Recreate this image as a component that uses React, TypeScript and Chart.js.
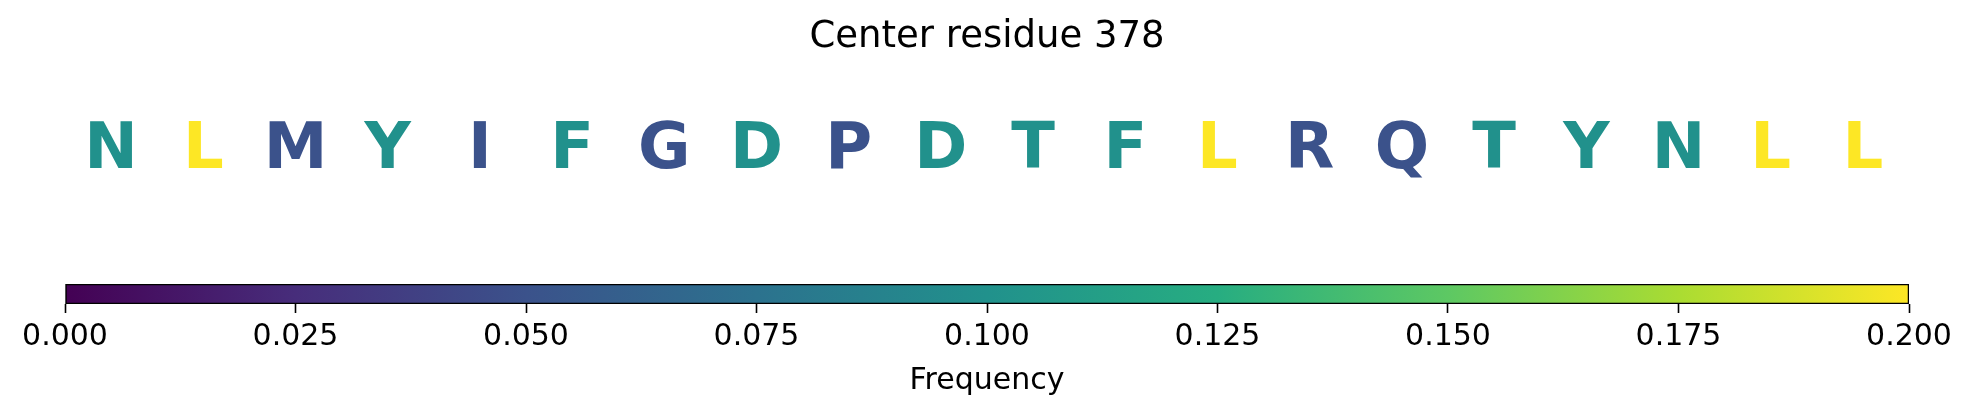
import React, { useEffect, useRef } from "react";
import { Chart, registerables } from "chart.js";

Chart.register(...registerables);

const TITLE = "Center residue 378";
const LETTERS = ["N", "L", "M", "Y", "I", "F", "G", "D", "P", "D", "T", "F", "L", "R", "Q", "T", "Y", "N", "L", "L"];
const FREQUENCIES = [0.1, 0.2, 0.05, 0.1, 0.05, 0.1, 0.05, 0.1, 0.05, 0.1, 0.1, 0.1, 0.2, 0.05, 0.05, 0.1, 0.1, 0.1, 0.2, 0.2];
const POSITIONS = [0, 1, 2, 3, 4, 5, 6, 7, 8, 9, 10, 11, 12, 13, 14, 15, 16, 17, 18, 19];
const ROW_VALUE = 0.5;
const COLOR_MIN = 0;
const COLOR_MAX = 0.2;
const TICK_VALUES = [0, 0.025, 0.05, 0.075, 0.1, 0.125, 0.15, 0.175, 0.2];
const COLORBAR_LABEL = "Frequency";
const VIRIDIS = ["#440154", "#472d7b", "#3b528b", "#2c728e", "#21918c", "#27ad81", "#5dc863", "#aadc32", "#fde725"];

const FONT = "'DejaVu Sans', 'Noto Sans', sans-serif";
const LETTER_SIZE = 64;

function hexToRgb(h: string) {
  const n = parseInt(h.slice(1), 16);
  return [(n >> 16) & 255, (n >> 8) & 255, n & 255];
}

function viridis(t: number) {
  const c = Math.max(0, Math.min(1, t)) * (VIRIDIS.length - 1);
  const lo = Math.floor(c);
  const hi = Math.min(VIRIDIS.length - 1, lo + 1);
  const f = c - lo;
  const a = hexToRgb(VIRIDIS[lo]);
  const b = hexToRgb(VIRIDIS[hi]);
  const r = a.map((v, i) => Math.round(v + (b[i] - v) * f));
  return `rgb(${r[0]},${r[1]},${r[2]})`;
}

const letterPlugin = {
  id: "letterPlugin",
  afterDatasetsDraw(chart: any) {
    const meta = chart.getDatasetMeta(0);
    const ctx = chart.ctx;
    ctx.save();
    ctx.font = `bold ${LETTER_SIZE}px ${FONT}`;
    ctx.textAlign = "center";
    ctx.textBaseline = "alphabetic";
    meta.data.forEach((el: any, i: number) => {
      ctx.fillStyle = viridis((FREQUENCIES[i] - COLOR_MIN) / (COLOR_MAX - COLOR_MIN));
      // vertically centre the capital letters on the point
      ctx.fillText(LETTERS[i], el.x, el.y + 0.3645 * LETTER_SIZE);
    });
    ctx.restore();
  },
};

export default function App() {
  const topRef = useRef<HTMLCanvasElement>(null);
  const barRef = useRef<HTMLCanvasElement>(null);

  useEffect(() => {
    const top = new Chart(topRef.current!, {
      type: "scatter",
      data: {
        datasets: [
          {
            data: POSITIONS.map((p) => ({ x: p, y: ROW_VALUE })),
            pointRadius: 0,
            pointHoverRadius: 0,
          },
        ],
      },
      options: {
        animation: false,
        responsive: false,
        devicePixelRatio: 1,
        layout: { padding: { left: 65, right: 64, top: 0, bottom: 41 } },
        plugins: {
          legend: { display: false },
          tooltip: { enabled: false },
          title: {
            display: true,
            text: TITLE,
            color: "#000",
            font: { family: FONT, size: 37, weight: "normal" },
            padding: { top: 15, bottom: 0 },
          },
        },
        scales: {
          x: { type: "linear", min: -0.5, max: 19.5, display: false },
          y: { type: "linear", min: 0, max: 1, display: false },
        },
      },
      plugins: [letterPlugin],
    } as any);

    const bar = new Chart(barRef.current!, {
      type: "bar",
      data: {
        labels: [""],
        datasets: [
          {
            data: [[COLOR_MIN, COLOR_MAX]],
            backgroundColor: (c: any) => {
              const area = c.chart.chartArea;
              if (!area) return VIRIDIS[0];
              const g = c.chart.ctx.createLinearGradient(area.left, 0, area.right, 0);
              VIRIDIS.forEach((col, i) => g.addColorStop(i / (VIRIDIS.length - 1), col));
              return g;
            },
            borderColor: "#000",
            borderWidth: 1.6,
            borderSkipped: false,
            barPercentage: 1,
            categoryPercentage: 1,
          },
        ],
      },
      options: {
        indexAxis: "y",
        animation: false,
        responsive: false,
        devicePixelRatio: 1,
        layout: { padding: { left: 65, right: 64, top: 14, bottom: 0 } },
        plugins: {
          legend: { display: false },
          tooltip: { enabled: false },
          title: {
            display: true,
            position: "bottom",
            text: COLORBAR_LABEL,
            color: "#000",
            font: { family: FONT, size: 30, weight: "normal", lineHeight: 1 },
            padding: { top: 4.3, bottom: 19.3 },
          },
        },
        scales: {
          x: {
            type: "linear",
            min: COLOR_MIN,
            max: COLOR_MAX,
            afterBuildTicks: (scale: any) => {
              scale.ticks = TICK_VALUES.map((v) => ({ value: v }));
            },
            ticks: {
              color: "#000",
              font: { family: FONT, size: 30, lineHeight: 1 },
              padding: 9.7,
              maxRotation: 0,
              autoSkip: false,
              callback: (v: any) => Number(v).toFixed(3),
            },
            grid: {
              display: true,
              drawOnChartArea: false,
              drawTicks: true,
              tickLength: 9,
              tickColor: "#000",
              tickWidth: 1.6,
            },
            border: { display: false },
          },
          y: { display: false },
        },
      },
    } as any);

    return () => {
      top.destroy();
      bar.destroy();
    };
  }, []);

  return (
    <div style={{ position: "absolute", left: 0, top: 0, width: 1973, height: 416, background: "#fff" }}>
      <canvas ref={topRef} width={1973} height={270} style={{ display: "block" }} />
      <canvas ref={barRef} width={1973} height={146} style={{ display: "block" }} />
    </div>
  );
}
